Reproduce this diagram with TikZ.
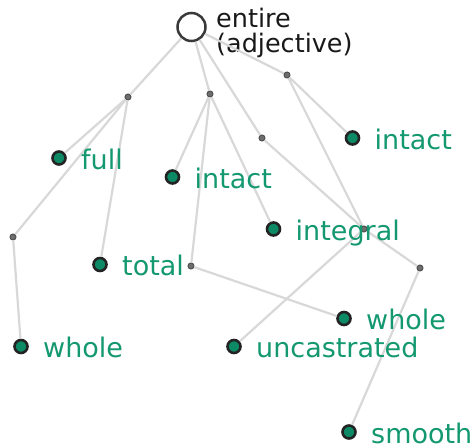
\documentclass[tikz,border=0pt]{standalone}
\usepackage{fontspec}
\setmainfont{DejaVu Sans}
\usetikzlibrary{calc}
\definecolor{leafgreen}{RGB}{12,138,102}
\definecolor{wordgreen}{RGB}{20,152,112}
\definecolor{edgegray}{RGB}{216,216,216}
\definecolor{hubgray}{RGB}{110,110,110}
\definecolor{rimdark}{RGB}{35,35,35}
\tikzset{
  edge/.style={draw=edgegray, line width=2.2pt},
  hub/.style={circle, draw=rimdark!80, fill=hubgray, line width=1pt, minimum size=6pt, inner sep=0pt},
  leaf/.style={circle, draw=rimdark, fill=leafgreen, line width=2.6pt, minimum size=13pt, inner sep=0pt},
  rootdot/.style={circle, draw=rimdark!90, fill=white, line width=2.5pt, minimum size=28pt, inner sep=0pt},
  word/.style={anchor=base west, inner sep=0pt, text=wordgreen, font=\fontsize{27}{32}\selectfont},
}
\begin{document}
\begin{tikzpicture}[x=1pt,y=-1pt]
  \useasboundingbox (0,0) rectangle (475,448);

  % Marking root
  \node[rootdot] (entire) at (191.5,27) {};
  \node[anchor=base west, inner sep=0pt, align=left, text=black!90,
        font=\fontsize{25.5}{25}\selectfont] (entireT) at (216,52) {entire\\(adjective)};

  % Marking hubs
  \node[hub] (h1) at (128,97) {};
  \node[hub] (h2) at (210,94) {};
  \node[hub] (h3) at (287,75) {};
  \node[hub] (h4) at (262,138) {};
  \node[hub] (h5) at (13,237) {};
  \node[hub] (h6) at (191,266) {};
  \node[hub] (h7) at (420,268) {};
  \node[hub] (h8) at (364,229) {};

  % Marking words
  \node[leaf] (full) at (59,158) {};
  \node[leaf] (intactA) at (172.5,177) {};
  \node[leaf] (intactB) at (352.5,138) {};
  \node[leaf] (integral) at (273.5,229) {};
  \node[leaf] (total) at (100,264.5) {};
  \node[leaf] (wholeA) at (21,346.5) {};
  \node[leaf] (wholeB) at (344,318.5) {};
  \node[leaf] (uncastrated) at (234,346.5) {};
  \node[leaf] (smooth) at (349,432) {};

  % Drawing edges
  \foreach \a/\b in {entire/h1, entire/h2, entire/h4, entire/h3,
                     h1/full, h1/h5, h1/total,
                     h2/intactA, h2/integral, h2/h6,
                     h3/intactB, h3/h8, h4/h8,
                     h5/wholeA, h6/wholeB,
                     h8/h7, h8/uncastrated, h7/smooth}
    \draw[edge] (\a) -- (\b);

  % Marking labels
  \node[word] (fullT) at ($(full)+(22,11)$) {full};
  \node[word] (intactAT) at ($(intactA)+(22,11)$) {intact};
  \node[word] (intactBT) at ($(intactB)+(22,11)$) {intact};
  \node[word] (integralT) at ($(integral)+(22,11)$) {integral};
  \node[word] (totalT) at ($(total)+(22,11)$) {total};
  \node[word] (wholeAT) at ($(wholeA)+(22,11)$) {whole};
  \node[word] (wholeBT) at ($(wholeB)+(22,11)$) {whole};
  \node[word] (uncastratedT) at ($(uncastrated)+(22,11)$) {uncastrated};
  \node[word] (smoothT) at ($(smooth)+(22,11)$) {smooth};
\end{tikzpicture}
\end{document}
